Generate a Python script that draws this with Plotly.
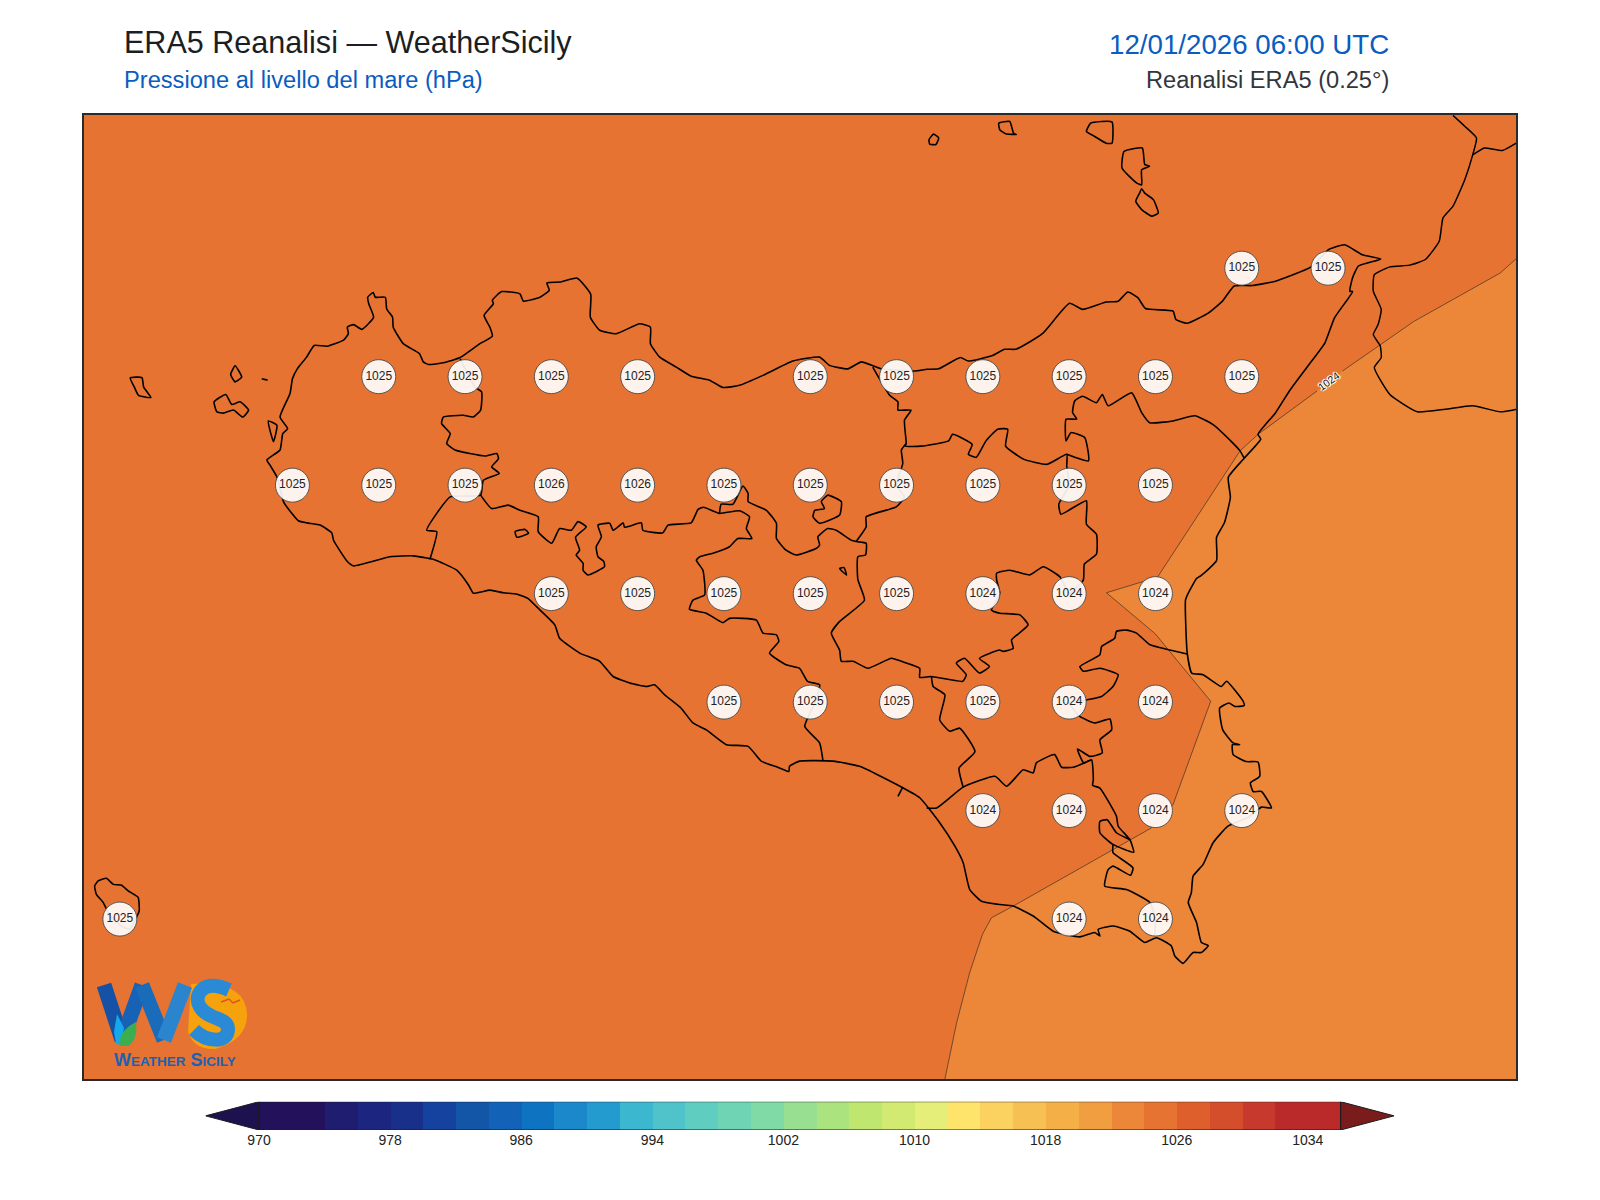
import plotly.graph_objects as go

# ---------------- text ----------------
TITLE = "ERA5 Reanalisi — WeatherSicily"
SUBTITLE = "Pressione al livello del mare (hPa)"
DATE_TEXT = "12/01/2026 06:00 UTC"
SOURCE_TEXT = "Reanalisi ERA5 (0.25°)"

# ---------------- grid-point pressure labels ----------------
station_lon = [15.25, 15.5,
               12.75, 13.0, 13.25, 13.5, 14.0, 14.25, 14.5, 14.75, 15.0, 15.25,
               12.5, 12.75, 13.0, 13.25, 13.5, 13.75, 14.0, 14.25, 14.5, 14.75, 15.0,
               13.25, 13.5, 13.75, 14.0, 14.25, 14.5, 14.75, 15.0,
               13.75, 14.0, 14.25, 14.5, 14.75, 15.0,
               14.5, 14.75, 15.0, 15.25,
               12.0, 14.75, 15.0]
station_lat = [38.25, 38.25,
               38.0, 38.0, 38.0, 38.0, 38.0, 38.0, 38.0, 38.0, 38.0, 38.0,
               37.75, 37.75, 37.75, 37.75, 37.75, 37.75, 37.75, 37.75, 37.75, 37.75, 37.75,
               37.5, 37.5, 37.5, 37.5, 37.5, 37.5, 37.5, 37.5,
               37.25, 37.25, 37.25, 37.25, 37.25, 37.25,
               37.0, 37.0, 37.0, 37.0,
               36.75, 36.75, 36.75]
station_hpa = [1025, 1025,
               1025, 1025, 1025, 1025, 1025, 1025, 1025, 1025, 1025, 1025,
               1025, 1025, 1025, 1026, 1026, 1025, 1025, 1025, 1025, 1025, 1025,
               1025, 1025, 1025, 1025, 1025, 1024, 1024, 1024,
               1025, 1025, 1025, 1025, 1024, 1024,
               1024, 1024, 1024, 1024,
               1025, 1024, 1024]

# ---------------- 1024 hPa isobar ----------------
iso_lon = [16.048, 15.999, 15.748, 15.542, None, 15.468, 15.297, 15.245, 15.006, 14.858, 15.0, 15.041,
           15.16, 15.051, 14.988, 14.588, 14.525, 14.499, 14.462, 14.424, 14.39]
iso_lat = [38.274, 38.239, 38.127, 38.013, None, 37.967, 37.867, 37.829, 37.538, 37.502, 37.407, 37.367,
           37.252, 37.014, 36.96, 36.78, 36.753, 36.715, 36.627, 36.511, 36.381]
ISO_LEVEL = 1024
ISO_LABEL_LON = 15.502
ISO_LABEL_LAT = 37.99

# ---------------- map extent ----------------
LON_RANGE = [11.895, 16.045]
LAT_RANGE = [36.381, 38.603]

# ---------------- Sicily coastline ----------------
coast_lon = [12.426, 12.464, 12.472, 12.486, 12.464, 12.493, 12.5, 12.514, 12.541, 12.563, 12.6, 12.648, 12.662,
             12.659, 12.677, 12.701, 12.735, 12.721, 12.718, 12.734, 12.74, 12.769, 12.773, 12.79, 12.792, 12.821,
             12.868, 12.879, 12.894, 12.937, 12.986, 13.043, 13.079, 13.072, 13.055, 13.082, 13.079, 13.106, 13.159,
             13.169, 13.217, 13.244, 13.237, 13.275, 13.325, 13.364, 13.363, 13.39, 13.438, 13.506, 13.537, 13.537,
             13.564, 13.612, 13.655, 13.708, 13.747, 13.795, 13.863, 13.95, 14.027, 14.056, 14.109, 14.148, 14.206,
             14.302, 14.338, 14.372, 14.435, 14.458, 14.526, 14.563, 14.595, 14.629, 14.675, 14.751, 14.789, 14.857,
             14.892, 14.92, 14.949, 14.971, 15.051, 15.059, 15.091, 15.154, 15.194, 15.228, 15.28, 15.348, 15.451,
             15.502, 15.548, 15.599, 15.653, 15.588, 15.571, 15.563, 15.571, 15.519, 15.491, 15.445, 15.388, 15.348,
             15.297, 15.305, 15.257, 15.211, 15.217, 15.2, 15.177, 15.177, 15.131, 15.119, 15.095, 15.087, 15.092,
             15.105, 15.138, 15.191, 15.206, 15.254, 15.257, 15.23, 15.213, 15.186, 15.195, 15.225, 15.244, 15.223,
             15.225, 15.263, 15.297, 15.302, 15.275, 15.283, 15.307, 15.336, 15.307, 15.27, 15.21, 15.167, 15.138,
             15.109, 15.104, 15.095, 15.119, 15.133, 15.153, 15.133, 15.109, 15.08, 15.056, 15.046, 15.003, 14.969,
             14.926, 14.878, 14.834, 14.839, 14.824, 14.781, 14.704, 14.646, 14.588, 14.544, 14.496, 14.462, 14.443,
             14.419, 14.375, 14.318, 14.26, 14.143, 14.066, 13.969, 13.94, 13.938, 13.906, 13.858, 13.82, 13.757,
             13.699, 13.66, 13.626, 13.578, 13.549, 13.525, 13.477, 13.429, 13.39, 13.332, 13.274, 13.26, 13.207,
             13.182, 13.149, 13.111, 13.072, 13.024, 13.01, 12.976, 12.908, 12.85, 12.783, 12.677, 12.659, 12.619,
             12.614, 12.58, 12.542, 12.517, 12.498, 12.474, 12.455, 12.435, 12.426]
coast_lat = [37.808, 37.831, 37.869, 37.88, 37.907, 37.961, 37.995, 38.018, 38.045, 38.072, 38.07, 38.084, 38.099,
             38.114, 38.12, 38.109, 38.137, 38.168, 38.183, 38.194, 38.183, 38.183, 38.156, 38.137, 38.114, 38.076,
             38.053, 38.034, 38.028, 38.032, 38.044, 38.076, 38.093, 38.114, 38.141, 38.168, 38.176, 38.196, 38.191,
             38.174, 38.183, 38.199, 38.216, 38.218, 38.227, 38.19, 38.137, 38.107, 38.099, 38.122, 38.114, 38.076,
             38.045, 38.022, 38.001, 37.992, 37.975, 37.98, 38.003, 38.036, 38.045, 38.026, 38.018, 38.034, 38.018,
             38.013, 38.017, 38.018, 38.044, 38.036, 38.048, 38.063, 38.063, 38.077, 38.101, 38.169, 38.155, 38.172,
             38.174, 38.195, 38.182, 38.157, 38.151, 38.132, 38.123, 38.147, 38.174, 38.209, 38.21, 38.22, 38.253,
             38.293, 38.304, 38.281, 38.271, 38.255, 38.228, 38.197, 38.196, 38.136, 38.078, 38.028, 37.967, 37.917,
             37.867, 37.856, 37.812, 37.768, 37.722, 37.664, 37.63, 37.576, 37.541, 37.535, 37.501, 37.485, 37.363,
             37.317, 37.313, 37.286, 37.298, 37.252, 37.242, 37.24, 37.248, 37.236, 37.186, 37.156, 37.152, 37.152,
             37.129, 37.113, 37.112, 37.079, 37.064, 37.044, 37.044, 37.006, 37.008, 36.985, 36.964, 36.926, 36.876,
             36.849, 36.811, 36.788, 36.742, 36.696, 36.689, 36.673, 36.673, 36.648, 36.665, 36.688, 36.707, 36.696,
             36.722, 36.734, 36.726, 36.711, 36.719, 36.709, 36.722, 36.757, 36.78, 36.784, 36.791, 36.818, 36.88,
             36.918, 36.972, 37.029, 37.056, 37.102, 37.114, 37.114, 37.102, 37.09, 37.1, 37.114, 37.148, 37.152,
             37.186, 37.202, 37.236, 37.267, 37.29, 37.286, 37.294, 37.309, 37.344, 37.363, 37.397, 37.428, 37.47,
             37.489, 37.499, 37.502, 37.508, 37.501, 37.52, 37.554, 37.579, 37.587, 37.585, 37.564, 37.574, 37.623,
             37.64, 37.658, 37.663, 37.668, 37.685, 37.712, 37.769, 37.796, 37.808]

# ---------------- smaller islands (None separates them) ----------------
island_lon = [12.03, 12.064, 12.069, 12.09, 12.054, 12.042, 12.03, None,
              12.334, 12.353, 12.334, 12.321, 12.334, None,
              12.273, 12.307, 12.324, 12.348, 12.373, 12.356, 12.329, 12.3, 12.281, 12.273, None,
              12.411, 12.428, None,
              12.43, 12.445, 12.455, 12.43, None,
              14.344, 14.357, 14.372, 14.364, 14.346, 14.344, None,
              14.546, 14.578, 14.589, 14.597, 14.566, 14.549, 14.546, None,
              14.8, 14.812, 14.874, 14.874, 14.857, 14.823, 14.8, None,
              14.909, 14.962, 14.969, 14.983, 14.96, 14.96, 14.946, 14.903, 14.909, None,
              14.96, 14.969, 14.994, 15.008, 14.989, 14.96, 14.943, 14.954, 14.96, None,
              11.952, 11.932, 11.927, 11.937, 11.961, 11.981, 12.005, 12.024, 12.053, 12.056, 12.048, 12.029,
              12.01, 11.971, 11.952]
island_lat = [37.997, 37.998, 37.976, 37.952, 37.957, 37.976, 37.997, None,
              38.025, 37.999, 37.988, 38.005, 38.025, None,
              37.942, 37.959, 37.936, 37.942, 37.923, 37.907, 37.923, 37.916, 37.919, 37.942, None,
              37.995, 37.992, None,
              37.898, 37.85, 37.888, 37.898, None,
              38.546, 38.559, 38.55, 38.535, 38.536, 38.546, None,
              38.584, 38.588, 38.561, 38.558, 38.56, 38.569, 38.584, None,
              38.565, 38.584, 38.587, 38.538, 38.538, 38.554, 38.565, None,
              38.519, 38.527, 38.489, 38.485, 38.477, 38.442, 38.446, 38.481, 38.519, None,
              38.433, 38.423, 38.408, 38.377, 38.37, 38.385, 38.404, 38.423, 38.433, None,
              36.788, 36.807, 36.826, 36.838, 36.844, 36.83, 36.828, 36.815, 36.8, 36.769, 36.754, 36.727,
              36.731, 36.758, 36.788]

# ---------------- Calabria coast and boundary ----------------
calabria_lon = [15.862, 15.896, 15.93, 15.919, 15.896, 15.862, 15.833, 15.822, 15.782, 15.736, 15.679, 15.634,
                15.631, 15.654, 15.645, 15.631, 15.651, 15.654, 15.634, 15.679, 15.759, 15.839, 15.919, 15.999,
                16.047, None, 15.919, 15.953, 16.005, 16.045]
calabria_lat = [38.602, 38.577, 38.55, 38.511, 38.454, 38.393, 38.366, 38.312, 38.27, 38.257, 38.253, 38.235,
                38.197, 38.155, 38.12, 38.097, 38.071, 38.044, 38.021, 37.959, 37.919, 37.925, 37.933, 37.919,
                37.925, None, 38.511, 38.527, 38.521, 38.538]

# ---------------- provincial boundaries (None separates them) ----------------
border_lon = [12.986, 13.029, 13.048, 13.045, 13.024, 12.995, 12.937, 12.932, 12.957, 12.947, 12.971, 13.058, 13.092,
              13.097, 13.077, 13.099, 13.053, 13.045, 12.957, 12.918, 12.889, 12.918, 12.899, None,
              13.045, 13.077, 13.125, 13.159, 13.212, 13.212, 13.251, 13.274, 13.308, 13.327, 13.351, 13.32, 13.332,
              13.322, 13.342, 13.342, 13.356, 13.404, 13.402, 13.385, 13.38, 13.395, 13.385, 13.419, 13.429, 13.458,
              13.462, 13.511, 13.515, 13.573, 13.588, 13.655, 13.675, 13.691, 13.737, 13.795, 13.824, 13.815, 13.831,
              13.79, 13.766, 13.718, 13.68, 13.67, 13.689, 13.694, 13.66, 13.65, 13.699, 13.747, 13.766, 13.844,
              13.863, 13.902, 13.909, 13.882, 13.93, 13.969, 13.992, 14.027, 14.017, 13.984, 14.027, 14.037, None,
              13.737, 13.742, 13.776, 13.805, 13.82, 13.82, 13.873, 13.902, 13.902, 13.93, 13.959, 14.017, 14.027,
              14.022, 14.051, 14.075, 14.119, 14.133, 14.162, 14.16, 14.138, 14.138, 14.157, 14.085, 14.061, 14.085,
              14.09, 14.124, 14.167, 14.235, 14.264, 14.317, 14.317, 14.35, 14.442, 14.452, 14.423, 14.447, 14.49,
              14.519, 14.49, 14.548, 14.559, 14.588, 14.583, 14.631, 14.607, 14.549, 14.525, 14.549, 14.54, 14.54,
              14.578, 14.636, 14.675, 14.723, 14.75, 14.791, 14.794, 14.829, 14.829, 14.8, 14.8, 14.726, 14.72,
              14.75, 14.743, 14.743, 14.686, 14.618, 14.566, 14.572, 14.543, 14.509, 14.481, 14.458, 14.469, 14.412,
              14.401, 14.321, 14.275, 14.278, 14.273, 14.292, 14.254, 14.254, 14.23, 14.181, None,
              14.278, 14.264, 14.268, 14.249, 14.273, 14.249, 14.162, 14.162, 14.133, None,
              14.743, 14.806, 14.795, 14.755, 14.741, 14.741, 14.772, 14.76, 14.766, 14.789, 14.829, 14.846, 14.863,
              14.931, 14.96, 14.983, 15.051, 15.114, 15.166, 15.223, 15.245, 15.257, None,
              15.092, 15.032, 14.984, 14.945, 14.916, 14.887, 14.882, 14.844, 14.839, 14.781, 14.791, 14.839, 14.892,
              14.877, 14.844, 14.8, 14.75, 14.781, 14.824, 14.868, 14.873, 14.839, 14.846, 14.81, 14.774, 14.792,
              14.815, 14.82, 14.818, 14.839, 14.887, 14.892, 14.926, 14.937, 14.877, 14.839, 14.839, 14.86, 14.887,
              14.926, None,
              14.877, 14.877, 14.935, 14.928, 14.877, 14.863, 14.853, 14.916, 14.984, 15.0, 14.998, None,
              14.815, 14.762, 14.728, 14.708, 14.655, 14.646, 14.617, 14.569, 14.535, 14.443, 14.366, 14.337, None,
              14.443, 14.431, 14.477, 14.433, 14.404, 14.375, 14.39, 14.356, 14.351, None,
              14.051, 14.09, 14.085, 14.027, 14.008, 14.013, 14.041, 14.032, 14.051, None,
              13.145, 13.174, 13.184, 13.15, 13.145, None,
              14.085, 14.105, 14.098, 14.085, None,
              14.268, 14.254]
border_lat = [38.041, 37.976, 37.965, 37.923, 37.907, 37.911, 37.907, 37.892, 37.869, 37.846, 37.831, 37.817, 37.823,
              37.811, 37.792, 37.777, 37.761, 37.727, 37.723, 37.685, 37.646, 37.643, 37.581, None,
              37.727, 37.696, 37.704, 37.692, 37.677, 37.643, 37.616, 37.65, 37.646, 37.666, 37.654, 37.63, 37.6,
              37.589, 37.57, 37.554, 37.543, 37.562, 37.574, 37.585, 37.608, 37.631, 37.658, 37.662, 37.646, 37.663,
              37.653, 37.663, 37.646, 37.64, 37.658, 37.663, 37.694, 37.699, 37.685, 37.691, 37.677, 37.65, 37.627,
              37.627, 37.608, 37.593, 37.585, 37.577, 37.554, 37.497, 37.485, 37.464, 37.455, 37.433, 37.443, 37.439,
              37.409, 37.405, 37.39, 37.363, 37.336, 37.328, 37.298, 37.29, 37.255, 37.194, 37.156, 37.114, None,
              37.685, 37.706, 37.706, 37.748, 37.731, 37.712, 37.692, 37.662, 37.627, 37.6, 37.589, 37.604, 37.612,
              37.631, 37.65, 37.646, 37.623, 37.62, 37.616, 37.589, 37.585, 37.532, 37.485, 37.436, 37.409, 37.37,
              37.344, 37.344, 37.328, 37.351, 37.344, 37.328, 37.307, 37.309, 37.298, 37.313, 37.34, 37.351, 37.317,
              37.332, 37.351, 37.37, 37.367, 37.374, 37.393, 37.428, 37.451, 37.455, 37.462, 37.501, 37.531, 37.547,
              37.554, 37.543, 37.562, 37.539, 37.501, 37.531, 37.568, 37.591, 37.637, 37.66, 37.714, 37.683, 37.706,
              37.75, 37.794, 37.821, 37.798, 37.81, 37.84, 37.879, 37.879, 37.852, 37.814, 37.821, 37.844, 37.867,
              37.852, 37.84, 37.84, 37.846, 37.9, 37.923, 37.923, 37.942, 37.957, 38.022, None,
              37.846, 37.831, 37.8, 37.75, 37.723, 37.7, 37.677, 37.654, 37.62, None,
              37.821, 37.806, 37.86, 37.871, 37.852, 37.902, 37.902, 37.917, 37.944, 37.955, 37.94, 37.959, 37.933,
              37.963, 37.917, 37.894, 37.898, 37.91, 37.89, 37.848, 37.829, 37.812, None,
              37.361, 37.372, 37.382, 37.409, 37.416, 37.413, 37.397, 37.378, 37.359, 37.332, 37.321, 37.328, 37.313,
              37.286, 37.263, 37.255, 37.249, 37.217, 37.202, 37.211, 37.186, 37.163, 37.133, 37.125, 37.142, 37.11,
              37.117, 37.071, 37.058, 37.052, 36.987, 36.964, 36.933, 36.904, 36.922, 36.949, 36.975, 36.979, 36.949,
              36.933, None,
              36.922, 36.903, 36.868, 36.851, 36.872, 36.864, 36.826, 36.818, 36.788, 36.75, 36.711, None,
              37.117, 37.1, 37.1, 37.129, 37.11, 37.087, 37.094, 37.056, 37.079, 37.054, 37.006, 37.006, None,
              37.054, 37.098, 37.136, 37.19, 37.183, 37.209, 37.267, 37.286, 37.309, None,
              37.727, 37.712, 37.681, 37.662, 37.677, 37.692, 37.696, 37.712, 37.727, None,
              37.643, 37.648, 37.639, 37.63, 37.643, None,
              37.558, 37.543, 37.56, 37.558, None,
              37.054, 37.033]

# ---------------- colour bar ----------------
cbar_levels = [970, 974, 976, 978, 980, 982, 984, 986, 988, 990, 992, 994, 996, 998, 1000, 1002, 1004, 1006, 1008,
               1010, 1012, 1014, 1016, 1018, 1020, 1022, 1024, 1026, 1028, 1030, 1032]
cbar_widths = [4, 2, 2, 2, 2, 2, 2, 2, 2, 2, 2, 2, 2, 2, 2, 2, 2, 2, 2, 2, 2, 2, 2, 2, 2, 2, 2, 2, 2, 2, 4]
cbar_colors = ["#23115B", "#1F1D6F", "#1C2680", "#183089", "#15429E", "#1356A8", "#1263B8", "#0E74C2", "#1A88CB",
               "#239BCF", "#3CB7D0", "#50C2C9", "#5FCDC0", "#6FD4B4", "#80DAA5", "#98DF92", "#ABE37E", "#BFE76F",
               "#D3EA72", "#E5EE78", "#FEE46B", "#FBD160", "#F7C052", "#F4B047", "#F09E40", "#EC873A", "#E67331",
               "#DF5F2C", "#D44E2C", "#C7392C", "#BA2A2A"]
cbar_ticks = [970, 978, 986, 994, 1002, 1010, 1018, 1026, 1034]
CBAR_LOW_COLOR = "#1D1150"
CBAR_HIGH_COLOR = "#7A1C1C"
CBAR_RANGE = [966.74, 1039.26]

BAND_HIGH = "#E67331"
BAND_LOW = "#EC873A"

# ---------------- figure ----------------
W, H = 1600, 1200
def fx(p): return p / W
def fy(p): return 1 - p / H

fig = go.Figure()

# 1024-1026 band: whole map, then 1022-1024 band over the south-east
fig.add_trace(go.Scatter(x=[LON_RANGE[0], LON_RANGE[1], LON_RANGE[1], LON_RANGE[0], LON_RANGE[0]],
                         y=[LAT_RANGE[0], LAT_RANGE[0], LAT_RANGE[1], LAT_RANGE[1], LAT_RANGE[0]],
                         mode="lines", line=dict(width=0), fill="toself", fillcolor=BAND_HIGH,
                         hoverinfo="skip", showlegend=False))
poly_lon = [v for v in iso_lon if v is not None] + [LON_RANGE[1], LON_RANGE[1]]
poly_lat = [v for v in iso_lat if v is not None] + [LAT_RANGE[0], iso_lat[0]]
fig.add_trace(go.Scatter(x=poly_lon, y=poly_lat, mode="lines", line=dict(width=0), fill="toself",
                         fillcolor=BAND_LOW, hoverinfo="skip", showlegend=False))
fig.add_trace(go.Scatter(x=iso_lon, y=iso_lat, mode="lines", line=dict(color="rgba(40,35,30,0.85)", width=0.7),
                         connectgaps=False, hoverinfo="skip", showlegend=False))

for lon, lat, lw in ((calabria_lon, calabria_lat, 1.5), (border_lon, border_lat, 1.6),
                     (island_lon, island_lat, 1.6), (coast_lon, coast_lat, 1.6)):
    fig.add_trace(go.Scatter(x=lon, y=lat, mode="lines",
                             line=dict(color="black", width=lw, shape="spline", smoothing=0.45),
                             connectgaps=False, hoverinfo="skip", showlegend=False))

fig.add_trace(go.Scatter(x=station_lon, y=station_lat, mode="markers+text",
                         text=[str(v) for v in station_hpa], textposition="middle center",
                         textfont=dict(family="Liberation Sans, Arial, sans-serif", size=12, color="#222222"),
                         marker=dict(size=34, color="rgba(255,255,255,0.91)", line=dict(color="#4a4a4a", width=0.9)),
                         hoverinfo="skip", showlegend=False))

# colour bar: bands and extension triangles
fig.add_trace(go.Scatter(x=[CBAR_RANGE[0], 970, 970, CBAR_RANGE[0]], y=[0.5, 1, 0, 0.5], mode="lines",
                         line=dict(color="#1c1c1c", width=1), fill="toself", fillcolor=CBAR_LOW_COLOR,
                         xaxis="x2", yaxis="y2", hoverinfo="skip", showlegend=False))
fig.add_trace(go.Scatter(x=[CBAR_RANGE[1], 1036, 1036, CBAR_RANGE[1]], y=[0.5, 1, 0, 0.5], mode="lines",
                         line=dict(color="#1c1c1c", width=1), fill="toself", fillcolor=CBAR_HIGH_COLOR,
                         xaxis="x2", yaxis="y2", hoverinfo="skip", showlegend=False))
fig.add_trace(go.Bar(x=cbar_widths, base=cbar_levels, y=[0.5] * len(cbar_levels), width=1, orientation="h",
                     marker=dict(color=cbar_colors, line=dict(width=0)),
                     xaxis="x2", yaxis="y2", hoverinfo="skip", showlegend=False))
fig.add_trace(go.Scatter(x=[970, 1036, 1036, 970, 970], y=[0, 0, 1, 1, 0], mode="lines",
                         line=dict(color="#1c1c1c", width=1), xaxis="x2", yaxis="y2",
                         hoverinfo="skip", showlegend=False))

FONT = "Liberation Sans, Arial, sans-serif"
def label(text, x, y, size, color, anchor):
    return dict(text=text, x=fx(x), y=fy(y), xref="paper", yref="paper", xanchor=anchor, yanchor="bottom",
                showarrow=False, font=dict(family=FONT, size=size, color=color), borderpad=0, borderwidth=0,
                align=anchor)

annotations = [
    label(TITLE, 124, 60, 30.55, "#1b1f24", "left"),
    label(SUBTITLE, 124, 93.5, 23.65, "#0a5cc0", "left"),
    label(DATE_TEXT, 1389, 60, 27.7, "#0a5cc0", "right"),
    label(SOURCE_TEXT, 1389, 93.5, 23.65, "#33363b", "right"),
    dict(text=str(ISO_LEVEL), x=ISO_LABEL_LON, y=ISO_LABEL_LAT, xref="x", yref="y", showarrow=False, textangle=-36,
         font=dict(family=FONT, size=10.5, color="#111111",
                   shadow="-1px 0 #fff, 1px 0 #fff, 0 1px #fff, 0 -1px #fff, 1px 1px #fff, -1px -1px #fff")),
    dict(text="W<span style='font-size:13.5px'>EATHER</span> S<span style='font-size:13.5px'>ICILY</span>",
         x=85, y=89.5, xref="x3", yref="y3", showarrow=False,
         font=dict(family=FONT, size=18, color="#1b62b4", weight="bold")),
]

# logo, drawn in its own small box
def logo_path(path, fill=None, line=None, width=0):
    return dict(type="path", path=path, xref="x3", yref="y3", layer="above",
                fillcolor=fill if fill else "rgba(0,0,0,0)",
                line=dict(color=line if line else "rgba(0,0,0,0)", width=width))

shapes = [
    logo_path("M 101 14 Q 156 10 157 45 Q 157 70 125 79 Q 104 80 98 62 Z", fill="#F5A20C"),
    logo_path("M 139 20 C 112 8 103 26 110 37 C 118 50 138 47 138 59 C 138 74 116 72 104 60", line="#2A8AD6", width=14),
    logo_path("M 131 32 L 139 29 L 143 33 L 150 30", line="#D9541E", width=1.4),
    logo_path("M 14 15 L 32 70", line="#1552A5", width=15),
    logo_path("M 32 70 L 52 15", line="#1762B4", width=15),
    logo_path("M 52 15 L 74 70", line="#1A6CBA", width=15),
    logo_path("M 74 70 L 95 15", line="#2A85CE", width=15),
    logo_path("M 27 44 L 34 58 L 31 75 L 26 74 L 24 62 Z", fill="#13A9EC"),
    logo_path("M 30 76 Q 27 62 46 52 Q 48 70 38 76 Z", fill="#3BAF4F"),
]

fig.update_layout(
    width=W, height=H, margin=dict(l=0, r=0, t=0, b=0), autosize=False,
    paper_bgcolor="white", plot_bgcolor="rgba(0,0,0,0)", showlegend=False,
    bargap=0, barmode="overlay", annotations=annotations, shapes=shapes,
    xaxis=dict(domain=[fx(83.6), fx(1516.2)], range=LON_RANGE, showgrid=False, zeroline=False, showticklabels=False,
               ticks="", showline=True, mirror=True, linecolor="#2a2a2a", linewidth=1.6),
    yaxis=dict(domain=[fy(1079.2), fy(115)], range=LAT_RANGE, showgrid=False, zeroline=False, showticklabels=False,
               ticks="", showline=True, mirror=True, linecolor="#2a2a2a", linewidth=1.6),
    xaxis2=dict(domain=[fx(205.6), fx(1394)], range=CBAR_RANGE, anchor="y2", showgrid=False, zeroline=False,
                tickvals=cbar_ticks, ticktext=[str(v) for v in cbar_ticks], ticks="", ticklen=0,
                tickfont=dict(family=FONT, size=14, color="#222222"), showline=False),
    yaxis2=dict(domain=[fy(1130), fy(1101.7)], range=[0, 1], anchor="x2", showgrid=False, zeroline=False,
                showticklabels=False, ticks="", showline=False),
    xaxis3=dict(domain=[fx(90), fx(260)], range=[0, 170], anchor="y3", visible=False, fixedrange=True),
    yaxis3=dict(domain=[fy(1075), fy(970)], range=[105, 0], anchor="x3", visible=False, fixedrange=True),
)

# keep the logo axes alive
fig.add_trace(go.Scatter(x=[0, 170], y=[0, 105], mode="markers", marker=dict(size=1, opacity=0), xaxis="x3", yaxis="y3",
                         hoverinfo="skip", showlegend=False))

fig.write_html("out.html", post_script="document.body.style.margin='0';", config={"displayModeBar": False})
